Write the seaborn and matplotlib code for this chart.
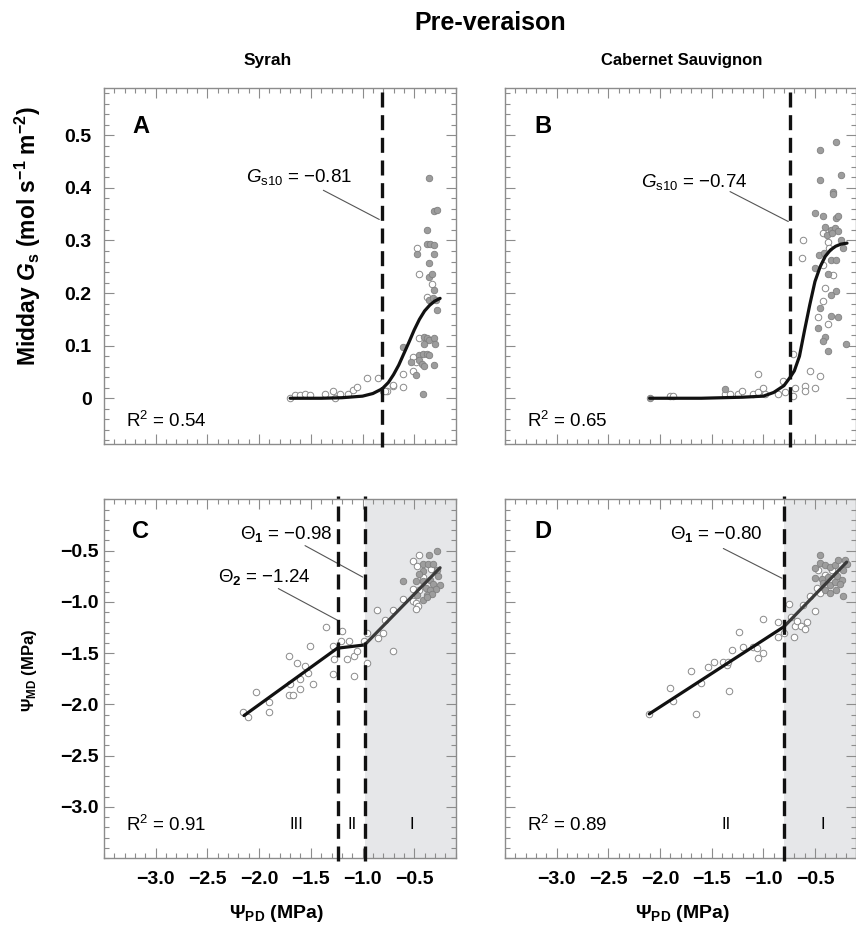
import numpy as np
import pandas as pd
import matplotlib
matplotlib.use("Agg")
import matplotlib.pyplot as plt
import seaborn as sns
from matplotlib.ticker import MultipleLocator, FixedLocator

# ---------------- data ----------------
title = "Pre-veraison"
cultivars = ["Syrah", "Cabernet Sauvignon"]
panel_letters = ["A", "B", "C", "D"]

x_ticks = [-3.0, -2.5, -2.0, -1.5, -1.0, -0.5]
x_tick_labels = ["\u22123.0", "\u22122.5", "\u22122.0", "\u22121.5", "\u22121.0", "\u22120.5"]
gs_ticks = [0, 0.1, 0.2, 0.3, 0.4, 0.5]
gs_tick_labels = ["0", "0.1", "0.2", "0.3", "0.4", "0.5"]
psi_ticks = [-3.0, -2.5, -2.0, -1.5, -1.0, -0.5]
psi_tick_labels = ["\u22123.0", "\u22122.5", "\u22122.0", "\u22121.5", "\u22121.0", "\u22120.5"]

# Panel A (Syrah, Gs)
A_open_x = [-1.70, -1.653, -1.605, -1.556, -1.508, -1.363, -1.282, -1.266, -1.218, -1.137, -1.089,
            -1.056, -0.96, -0.853, -0.799, -0.767, -0.708, -0.605, -0.611, -0.702, -0.782, -0.476,
            -0.454, -0.325, -0.379, -0.454, -0.509, -0.483, -0.509]
A_open_y = [0.0, 0.006, 0.006, 0.008, 0.006, 0.008, 0.014, 0.0, 0.008, 0.009, 0.016,
            0.021, 0.039, 0.038, 0.013, 0.013, 0.023, 0.022, 0.046, 0.025, 0.013, 0.285,
            0.237, 0.217, 0.193, 0.114, 0.078, 0.068, 0.052]
A_fill_x = [-0.605, -0.354, -0.309, -0.277, -0.379, -0.379, -0.347, -0.306, -0.476, -0.306, -0.354,
            -0.354, -0.325, -0.309, -0.354, -0.322, -0.29, -0.277, -0.402, -0.379, -0.354, -0.309,
            -0.30, -0.402, -0.45, -0.418, -0.379, -0.354, -0.531, -0.454, -0.428, -0.402, -0.309,
            -0.483, -0.412]
A_fill_y = [0.097, 0.418, 0.356, 0.358, 0.320, 0.293, 0.293, 0.291, 0.275, 0.274, 0.257,
            0.231, 0.237, 0.206, 0.187, 0.19, 0.187, 0.168, 0.117, 0.114, 0.111, 0.114,
            0.104, 0.104, 0.082, 0.085, 0.084, 0.082, 0.069, 0.073, 0.065, 0.061, 0.063,
            0.044, 0.009]
A_curve_x = [-1.70, -1.40, -1.20, -1.00, -0.90, -0.81, -0.75, -0.70, -0.65, -0.60, -0.55,
             -0.50, -0.45, -0.40, -0.35, -0.30, -0.25]
A_curve_y = [0.000, 0.000, 0.001, 0.004, 0.009, 0.018, 0.030, 0.045, 0.063, 0.085, 0.107,
             0.130, 0.150, 0.166, 0.177, 0.185, 0.190]
A_gs10 = -0.81
A_r2 = "0.54"

# Panel B (Cabernet Sauvignon, Gs)
B_open_x = [-1.90, -1.871, -1.371, -1.322, -1.242, -1.209, -1.097, -1.048, -1.048, -1.0, -0.984,
            -0.855, -0.806, -0.79, -0.71, -0.71, -0.694, -0.597, -0.597, -0.5, -0.548, -0.451,
            -0.613, -0.628, -0.425, -0.371, -0.361, -0.425, -0.328, -0.403, -0.425, -0.473, -0.371]
B_open_y = [0.004, 0.004, 0.008, 0.009, 0.008, 0.013, 0.009, 0.046, 0.012, 0.02, 0.008,
            0.008, 0.033, 0.011, 0.084, 0.004, 0.02, 0.024, 0.013, 0.02, 0.052, 0.043,
            0.30, 0.267, 0.315, 0.298, 0.286, 0.253, 0.235, 0.21, 0.184, 0.154, 0.141]
B_fill_x = [-2.097, -1.371, -0.296, -0.451, -0.451, -0.248, -0.328, -0.328, -0.50, -0.425, -0.296,
            -0.274, -0.403, -0.348, -0.306, -0.274, -0.386, -0.338, -0.248, -0.226, -0.458, -0.41,
            -0.348, -0.296, -0.50, -0.371, -0.296, -0.348, -0.451, -0.348, -0.274, -0.473, -0.403,
            -0.425, -0.371, -0.20]
B_fill_y = [0.0, 0.017, 0.488, 0.473, 0.415, 0.424, 0.393, 0.388, 0.352, 0.347, 0.342,
            0.347, 0.326, 0.32, 0.323, 0.318, 0.31, 0.315, 0.301, 0.286, 0.273, 0.277,
            0.263, 0.263, 0.248, 0.237, 0.204, 0.196, 0.172, 0.156, 0.154, 0.133, 0.116,
            0.108, 0.09, 0.103]
B_curve_x = [-2.10, -1.60, -1.20, -1.00, -0.90, -0.80, -0.74, -0.70, -0.65, -0.60, -0.55,
             -0.50, -0.45, -0.40, -0.35, -0.30, -0.25, -0.19]
B_curve_y = [0.000, 0.000, 0.002, 0.004, 0.011, 0.024, 0.040, 0.052, 0.080, 0.130, 0.178,
             0.222, 0.250, 0.270, 0.282, 0.289, 0.293, 0.295]
B_gs10 = -0.74
B_r2 = "0.65"

# Panel C (Syrah, Psi_MD)
C_open_x = [-2.153, -2.104, -2.03, -1.904, -1.904, -1.708, -1.708, -1.675, -1.70, -1.63, -1.604,
            -1.604, -1.556, -1.524, -1.508, -1.482, -1.353, -1.288, -1.273, -1.282, -1.201, -1.208,
            -1.128, -1.153, -1.079, -1.056, -1.079, -0.96, -0.986, -0.953, -0.857, -0.708, -0.847,
            -0.80, -0.782, -0.702, -0.605, -0.451, -0.509, -0.476, -0.34, -0.412, -0.509, -0.451,
            -0.509, -0.483, -0.46, -0.483]
C_open_y = [-2.074, -2.123, -1.877, -1.977, -2.074, -1.525, -1.906, -1.906, -1.80, -1.599, -1.751,
            -1.851, -1.622, -1.696, -1.428, -1.80, -1.25, -1.428, -1.557, -1.703, -1.283, -1.38,
            -1.38, -1.557, -1.525, -1.477, -1.729, -1.30, -1.38, -1.599, -1.082, -1.082, -1.357,
            -1.302, -1.179, -1.477, -0.975, -0.548, -0.604, -0.655, -0.678, -0.759, -0.872, -0.888,
            -0.992, -1.011, -1.043, -1.075]
C_fill_x = [-0.605, -0.354, -0.277, -0.412, -0.364, -0.315, -0.412, -0.283, -0.451, -0.267, -0.483,
            -0.418, -0.347, -0.25, -0.315, -0.29, -0.386, -0.347, -0.476, -0.379, -0.331, -0.412,
            -0.379]
C_fill_y = [-0.797, -0.548, -0.50, -0.629, -0.629, -0.629, -0.701, -0.694, -0.726, -0.752, -0.797,
            -0.80, -0.791, -0.84, -0.83, -0.872, -0.862, -0.888, -0.936, -0.936, -0.92, -0.978,
            -0.953]
C_line_x = [-2.146, -1.244, -0.98, -0.25]
C_line_y = [-2.11, -1.453, -1.421, -0.668]
C_theta1 = -0.98
C_theta2 = -1.24
C_r2 = "0.91"

# Panel D (Cabernet Sauvignon, Psi_MD)
D_open_x = [-2.104, -1.903, -1.877, -1.651, -1.70, -1.603, -1.532, -1.477, -1.387, -1.355, -1.339,
            -1.329, -1.30, -1.20, -1.232, -1.103, -1.054, -1.058, -1.0, -1.0, -0.855, -0.855,
            -0.80, -0.748, -0.732, -0.703, -0.693, -0.677, -0.635, -0.596, -0.58, -0.613, -0.548,
            -0.50, -0.483, -0.451, -0.467, -0.403, -0.338]
D_open_y = [-2.094, -1.845, -1.971, -2.094, -1.674, -1.796, -1.641, -1.592, -1.592, -1.618, -1.586,
            -1.868, -1.47, -1.441, -1.295, -1.441, -1.544, -1.447, -1.495, -1.172, -1.198, -1.347,
            -1.301, -1.02, -1.146, -1.347, -1.237, -1.189, -1.237, -1.269, -1.198, -1.027, -0.946,
            -1.092, -0.865, -0.913, -0.694, -0.736, -0.687]
D_fill_x = [-0.451, -0.50, -0.451, -0.403, -0.355, -0.306, -0.274, -0.225, -0.50, -0.435, -0.371,
            -0.29, -0.241, -0.419, -0.355, -0.306, -0.258, -0.403, -0.355, -0.296, -0.225, -0.209,
            -0.193]
D_fill_y = [-0.542, -0.671, -0.622, -0.639, -0.661, -0.639, -0.597, -0.694, -0.768, -0.778, -0.758,
            -0.745, -0.784, -0.816, -0.833, -0.81, -0.823, -0.881, -0.913, -0.881, -0.939, -0.597,
            -0.629]
D_line_x = [-2.104, -0.80, -0.193]
D_line_y = [-2.094, -1.243, -0.613]
D_theta1 = -0.80
D_r2 = "0.89"

# ---------------- style ----------------
sns.set_theme(style="ticks")
plt.rcParams['font.family'] = ['Liberation Sans', 'DejaVu Sans']
plt.rcParams['text.color'] = 'black'
plt.rcParams['axes.labelcolor'] = 'black'
plt.rcParams['xtick.color'] = 'black'
plt.rcParams['ytick.color'] = 'black'
plt.rcParams['mathtext.fontset'] = 'custom'
plt.rcParams['mathtext.rm'] = 'Liberation Sans'
plt.rcParams['mathtext.it'] = 'Liberation Sans:italic'
plt.rcParams['mathtext.bf'] = 'Liberation Sans:bold'
try:
    plt.rcParams['mathtext.bfit'] = 'Liberation Sans:italic:bold'
except Exception:
    pass

W, H = 856, 927
fig = plt.figure(figsize=(W / 100, H / 100), dpi=100)
fig.patch.set_facecolor("white")


def px_axes(l, t, r, b):
    return fig.add_axes([l / W, 1 - b / H, (r - l) / W, (b - t) / H])


def ftext(px, py, s, **kw):
    fig.text(px / W, 1 - py / H, s, **kw)


XLIM = (-3.5, -0.1)
axA = px_axes(104, 88, 455.6, 444)
axB = px_axes(505, 88, 856.3, 444)
axC = px_axes(104, 499.3, 455.6, 858)
axD = px_axes(505, 499.3, 856.3, 858)

SPINE = "#8c8c8c"
OPEN_EDGE = "#8a8a8a"
FILL_FACE = "#9d9d9d"
FILL_EDGE = "#808080"
TICK_FS = 14
NOTE_FS = 13.5


def style_axis(ax, top_row, left_col):
    ax.set_facecolor("white")
    ax.set_xlim(*XLIM)
    for sp in ax.spines.values():
        sp.set_color(SPINE)
        sp.set_linewidth(1.0)
        sp.set_visible(True)
    ax.xaxis.set_major_locator(FixedLocator(x_ticks))
    ax.xaxis.set_minor_locator(MultipleLocator(0.1))
    if top_row:
        ax.set_ylim(-0.087, 0.59)
        ax.yaxis.set_major_locator(FixedLocator(gs_ticks))
        ax.yaxis.set_minor_locator(MultipleLocator(0.02))
        if left_col:
            ax.set_yticklabels(gs_tick_labels, fontweight="bold", fontsize=TICK_FS)
        else:
            ax.set_yticklabels([])
        ax.set_xticklabels([])
    else:
        ax.set_ylim(-3.5, 0.0)
        ax.yaxis.set_major_locator(FixedLocator(psi_ticks))
        ax.yaxis.set_minor_locator(MultipleLocator(0.1))
        if left_col:
            ax.set_yticklabels(psi_tick_labels, fontweight="bold", fontsize=TICK_FS)
        else:
            ax.set_yticklabels([])
        ax.set_xticklabels(x_tick_labels, fontweight="bold", fontsize=TICK_FS)
    ax.tick_params(which="both", direction="in", top=True, right=True,
                   color=SPINE, width=0.8, labelcolor="black")
    ax.tick_params(which="major", length=7, pad=9)
    ax.tick_params(which="minor", length=3.5)
    if not top_row:
        ax.tick_params(axis="y", which="major", pad=4)
    ax.set_xlabel("")
    ax.set_ylabel("")
    ax.grid(False)


def scatter(ax, ox, oy, fx, fy):
    sns.scatterplot(x=ox, y=oy, ax=ax, s=22, color="white", edgecolor=OPEN_EDGE,
                    linewidth=0.7, zorder=2, legend=False)
    sns.scatterplot(x=fx, y=fy, ax=ax, s=22, color=FILL_FACE, edgecolor=FILL_EDGE,
                    linewidth=0.6, zorder=2.5, legend=False)


def vdash(ax, x):
    ax.axvline(x, ymin=-0.008, ymax=1.008, color="#111111", lw=2.4,
               ls=(0, (4.5, 2.3)), zorder=5, clip_on=False)


def leader(ax, x1, y1, x2, y2):
    ax.plot([x1, x2], [y1, y2], color="#555555", lw=0.8, zorder=4)


MINUS = "\u2212"

axC.axvspan(C_theta1, XLIM[1], color="#e6e7e9", zorder=0, lw=0)
axD.axvspan(D_theta1, XLIM[1], color="#e6e7e9", zorder=0, lw=0)

# ---- Panel A ----
scatter(axA, A_open_x, A_open_y, A_fill_x, A_fill_y)
sns.lineplot(x=A_curve_x, y=A_curve_y, ax=axA, color="#111111", lw=2.3, zorder=3,
             estimator=None, sort=False)
vdash(axA, A_gs10)
leader(axA, -1.379, 0.3955, -0.838, 0.340)
axA.text(-1.614, 0.421, r"$G_{\mathrm{s10}}$ = " + MINUS + "0.81",
         ha="center", va="center", fontsize=NOTE_FS)
axA.text(-3.29, -0.044, r"R$^{2}$ = " + A_r2, ha="left", va="center", fontsize=NOTE_FS)

# ---- Panel B ----
scatter(axB, B_open_x, B_open_y, B_fill_x, B_fill_y)
sns.lineplot(x=B_curve_x, y=B_curve_y, ax=axB, color="#111111", lw=2.3, zorder=3,
             estimator=None, sort=False)
vdash(axB, B_gs10)
leader(axB, -1.322, 0.393, -0.758, 0.336)
axB.text(-1.67, 0.411, r"$G_{\mathrm{s10}}$ = " + MINUS + "0.74",
         ha="center", va="center", fontsize=NOTE_FS)
axB.text(-3.29, -0.044, r"R$^{2}$ = " + B_r2, ha="left", va="center", fontsize=NOTE_FS)

# ---- Panel C ----
scatter(axC, C_open_x, C_open_y, C_fill_x, C_fill_y)
sns.lineplot(x=C_line_x[:3], y=C_line_y[:3], ax=axC, color="#111111", lw=2.3, zorder=3,
             estimator=None, sort=False)
sns.lineplot(x=C_line_x[2:], y=C_line_y[2:], ax=axC, color="#3a3a3a", lw=2.3, zorder=3,
             estimator=None, sort=False)
vdash(axC, C_theta2)
vdash(axC, C_theta1)
leader(axC, -1.556, -0.452, -0.998, -0.759)
leader(axC, -1.814, -0.871, -1.244, -1.179)
axC.text(-1.74, -0.335, "\u0398" + r"$_{\mathbf{1}}$ = " + MINUS + "0.98",
         ha="center", va="center", fontsize=NOTE_FS)
axC.text(-1.953, -0.762, "\u0398" + r"$_{\mathbf{2}}$ = " + MINUS + "1.24",
         ha="center", va="center", fontsize=NOTE_FS)
axC.text(-3.29, -3.18, r"R$^{2}$ = " + C_r2, ha="left", va="center", fontsize=NOTE_FS)
for lab, xx in [("III", -1.636), ("II", -1.105), ("I", -0.524)]:
    axC.text(xx, -3.17, lab, ha="center", va="center", fontsize=12)

# ---- Panel D ----
scatter(axD, D_open_x, D_open_y, D_fill_x, D_fill_y)
sns.lineplot(x=D_line_x[:2], y=D_line_y[:2], ax=axD, color="#111111", lw=2.3, zorder=3,
             estimator=None, sort=False)
sns.lineplot(x=D_line_x[1:], y=D_line_y[1:], ax=axD, color="#3a3a3a", lw=2.3, zorder=3,
             estimator=None, sort=False)
vdash(axD, D_theta1)
leader(axD, -1.387, -0.48, -0.82, -0.77)
axD.text(-1.458, -0.335, "\u0398" + r"$_{\mathbf{1}}$ = " + MINUS + "0.80",
         ha="center", va="center", fontsize=NOTE_FS)
axD.text(-3.29, -3.18, r"R$^{2}$ = " + D_r2, ha="left", va="center", fontsize=NOTE_FS)
for lab, xx in [("II", -1.361), ("I", -0.425)]:
    axD.text(xx, -3.17, lab, ha="center", va="center", fontsize=12)

style_axis(axA, True, True)
style_axis(axB, True, False)
style_axis(axC, False, True)
style_axis(axD, False, False)

# panel letters
for ax, letter, fx, fy in [(axA, "A", 0.105, 0.893), (axB, "B", 0.107, 0.893),
                           (axC, "C", 0.103, 0.91), (axD, "D", 0.108, 0.91)]:
    ax.text(fx, fy, letter, transform=ax.transAxes, ha="center", va="center",
            fontsize=17, fontweight="bold")

# titles
ftext(490, 23, title, ha="center", va="center", fontsize=18, fontweight="bold")
ftext(268, 60, cultivars[0], ha="center", va="center", fontsize=12.5, fontweight="bold")
ftext(682, 60, cultivars[1], ha="center", va="center", fontsize=12, fontweight="bold")

# axis labels
ftext(28, 236, r"Midday $\mathbfit{G}_{\mathbf{s}}$ (mol s$^{\mathbf{" + MINUS + r"1}}$ m$^{\mathbf{" + MINUS + r"2}}$)",
      ha="center", va="center", rotation=90, fontsize=16.5, fontweight="bold")
ftext(30, 670, "\u03a8" + r"$_{\mathbf{MD}}$ (MPa)", ha="center", va="center",
      rotation=90, fontsize=12, fontweight="bold")
ftext(276, 913, "\u03a8" + r"$_{\mathbf{PD}}$ (MPa)", ha="center", va="center",
      fontsize=14, fontweight="bold")
ftext(682, 913, "\u03a8" + r"$_{\mathbf{PD}}$ (MPa)", ha="center", va="center",
      fontsize=14, fontweight="bold")

fig.savefig("out.png", dpi=100, facecolor="white")
